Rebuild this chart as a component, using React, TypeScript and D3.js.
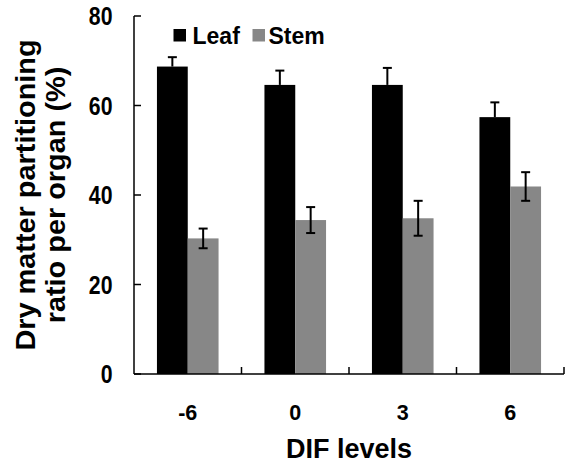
import React from "react";
import * as d3 from "d3";

const categories = ["-6", "0", "3", "6"];
const seriesNames = ["Leaf", "Stem"];
const leafValues = [68.7, 64.6, 64.6, 57.4];
const leafErrors = [2.1, 3.2, 3.8, 3.3];
const stemValues = [30.3, 34.4, 34.8, 41.9];
const stemErrors = [2.2, 2.9, 3.9, 3.2];
const yTicks = [0, 20, 40, 60, 80];
const colors = ["#000000", "#878787"];

const W = 567;
const H = 463;
const left = 134;
const right = 564;
const top = 16;
const bottom = 374;
const font = "'Liberation Sans', Arial, sans-serif";

export default function App() {
  const x = d3.scaleBand<string>().domain(categories).range([left, right]).padding(0);
  const y = d3.scaleLinear().domain([0, 80]).range([bottom, top]);
  const barW = 30.8;
  const series = [
    { name: seriesNames[0], values: leafValues, errors: leafErrors, color: colors[0] },
    { name: seriesNames[1], values: stemValues, errors: stemErrors, color: colors[1] },
  ];
  const boundaries = categories.map((c) => (x(c) as number) + x.bandwidth());
  return (
    <svg width={W} height={H} style={{ position: "absolute", left: 0, top: 0, background: "#fff" }}>
      {series.map((s, si) =>
        categories.map((c, i) => {
          const cx = (x(c) as number) + x.bandwidth() / 2;
          const bx = cx + (si - 1) * barW;
          const yv = y(s.values[i]);
          const ex = bx + barW / 2;
          const yHi = y(s.values[i] + s.errors[i]);
          const yLo = y(s.values[i] - s.errors[i]);
          return (
            <g key={s.name + c}>
              <rect x={bx} y={yv} width={barW} height={bottom - yv} fill={s.color} />
              <line x1={ex} x2={ex} y1={yHi} y2={si === 0 ? yv : yLo} stroke="#000" strokeWidth={2} />
              <line x1={ex - 4.5} x2={ex + 4.5} y1={yHi} y2={yHi} stroke="#000" strokeWidth={2} />
              {si === 1 && (
                <line x1={ex - 4.5} x2={ex + 4.5} y1={yLo} y2={yLo} stroke="#000" strokeWidth={2} />
              )}
            </g>
          );
        })
      )}
      {/* axes */}
      <line x1={left} x2={left} y1={top} y2={bottom} stroke="#000" strokeWidth={1.5} />
      <line x1={left} x2={right} y1={bottom} y2={bottom} stroke="#000" strokeWidth={1.5} />
      {yTicks.map((t) => (
        <g key={t}>
          <line x1={left} x2={left + 7} y1={y(t)} y2={y(t)} stroke="#000" strokeWidth={1.5} />
          <g transform={`translate(112.5,${y(t)}) scale(0.85,1)`}>
            <text x={0} y={0} dy="0.36em" textAnchor="end" fontFamily={font} fontWeight="bold" fontSize={25}>
              {t}
            </text>
          </g>
        </g>
      ))}
      {boundaries.map((b, i) => (
        <line key={i} x1={b} x2={b} y1={bottom} y2={bottom - 7} stroke="#000" strokeWidth={1.5} />
      ))}
      {categories.map((c) => (
        <text
          key={c}
          x={(x(c) as number) + x.bandwidth() / 2}
          y={419.5}
          textAnchor="middle"
          fontFamily={font}
          fontWeight="bold"
          fontSize={21.5}
        >
          {c}
        </text>
      ))}
      <text x={(left + right) / 2} y={457.5} textAnchor="middle" fontFamily={font} fontWeight="bold" fontSize={27}>
        DIF levels
      </text>
      <g transform={`translate(35,${(top + bottom) / 2}) rotate(-90) scale(1.05,1)`}>
        <text x={0} y={0} textAnchor="middle" fontFamily={font} fontWeight="bold" fontSize={27.5}>
          Dry matter partitioning
        </text>
      </g>
      <g transform={`translate(65,${(top + bottom) / 2}) rotate(-90) scale(1.05,1)`}>
        <text x={0} y={0} textAnchor="middle" fontFamily={font} fontWeight="bold" fontSize={27.5}>
          ratio per organ (%)
        </text>
      </g>
      {/* legend */}
      <rect x={173.5} y={29} width={12.5} height={12.5} fill={colors[0]} />
      <text x={192.5} y={43.5} fontFamily={font} fontWeight="bold" fontSize={23}>
        {seriesNames[0]}
      </text>
      <rect x={252.5} y={29} width={12.5} height={12.5} fill={colors[1]} />
      <text x={268.5} y={43.5} fontFamily={font} fontWeight="bold" fontSize={23}>
        {seriesNames[1]}
      </text>
    </svg>
  );
}
